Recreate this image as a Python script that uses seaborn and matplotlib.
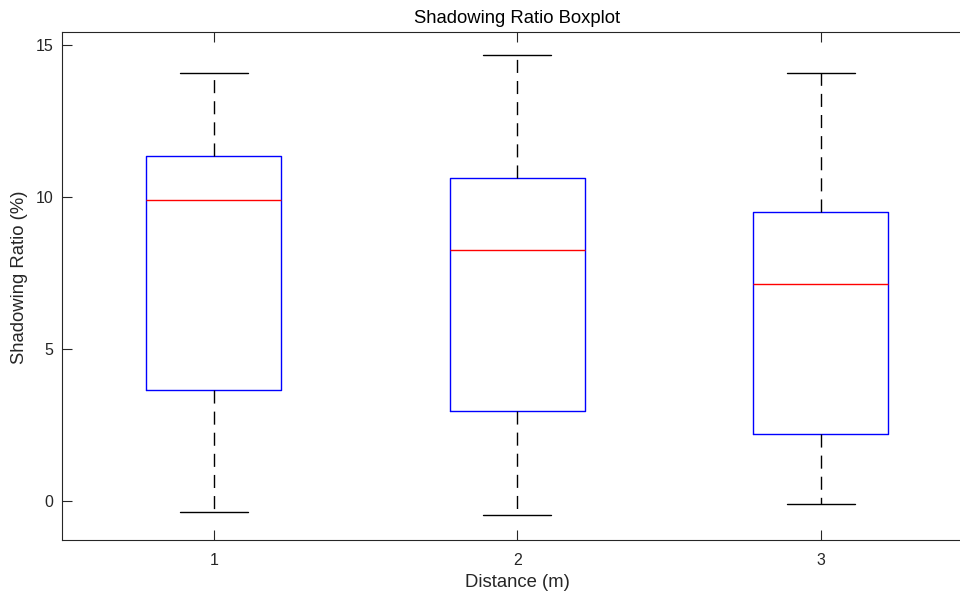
import matplotlib
matplotlib.use("Agg")
import matplotlib.pyplot as plt
import seaborn as sns
import pandas as pd

# Five-number summaries for each distance group
distances = ["1", "2", "3"]
whisker_low = [-0.39, -0.49, -0.10]
q1 = [3.64, 2.95, 2.20]
median = [9.88, 8.24, 7.12]
q3 = [11.32, 10.60, 9.48]
whisker_high = [14.08, 14.67, 14.08]

y_ticks = [0, 5, 10, 15]

rows = []
for i, d in enumerate(distances):
    for v in (whisker_low[i], q1[i], median[i], q3[i], whisker_high[i]):
        rows.append({"Distance": d, "Ratio": v})
df = pd.DataFrame(rows)

sns.set_theme(style="white")
plt.rcParams["font.family"] = ["Liberation Sans", "DejaVu Sans"]
text_color = "#262626"

fig = plt.figure(figsize=(9.6, 5.97), dpi=100)
ax = fig.add_axes([62 / 960, 57.5 / 597, 910.5 / 960, 508 / 597])

sns.boxplot(
    data=df, x="Distance", y="Ratio", order=distances,
    whis=(0, 100), width=0.445, fill=False, linewidth=1.0,
    boxprops=dict(color="#0000ff", linewidth=1.0),
    medianprops=dict(color="#ff0000", linewidth=1.0),
    whiskerprops=dict(color="black", linewidth=1.0, linestyle=(0, (9.4, 5.8))),
    capprops=dict(color="black", linewidth=1.0),
    showfliers=False, ax=ax,
)

ax.set_xlim(-0.5, 2.5)
ax.set_ylim(-1.28, 15.43)
ax.set_yticks(y_ticks)
ax.set_yticklabels([str(t) for t in y_ticks])

for side in ("left", "bottom", "top", "right"):
    ax.spines[side].set_color(text_color)
    ax.spines[side].set_linewidth(0.8)
ax.tick_params(axis="both", direction="in", length=7.2, width=0.8,
               color=text_color, labelcolor=text_color, labelsize=11.5)
ax.tick_params(axis="x", bottom=True, top=True, pad=10)
ax.tick_params(axis="y", left=True, right=True, pad=6)

ax.set_title("Shadowing Ratio Boxplot", fontsize=13.3, color="black", pad=6)
ax.set_xlabel("Distance (m)", fontsize=13.3, color=text_color, labelpad=4)
ax.set_ylabel("Shadowing Ratio (%)", fontsize=13.3, color=text_color)
ax.yaxis.set_label_coords(-0.037, 0.517)

fig.savefig("out.png", dpi=100)
